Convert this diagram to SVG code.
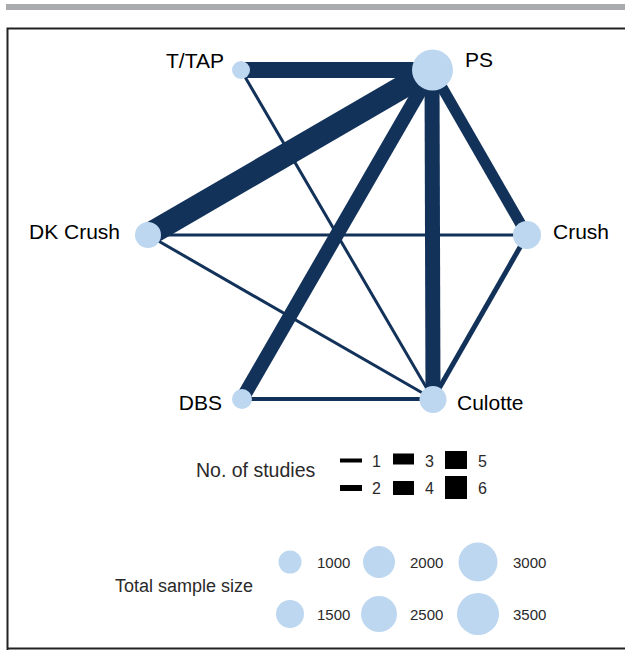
<svg xmlns="http://www.w3.org/2000/svg" width="625" height="650" viewBox="0 0 625 650">
<style>
.e{stroke:#12325a;fill:none;stroke-linecap:butt}
.n{fill:#bdd7f0}
.lb{font-family:"Liberation Sans",Arial,sans-serif;font-size:21px;fill:#000}
.lg{font-family:"Liberation Sans",Arial,sans-serif;fill:#2a2a2a}
.k{fill:#000}
</style>
<rect x="0" y="0" width="625" height="650" fill="#fff"/>
<rect x="6" y="4" width="619" height="6" fill="#a9abae"/>
<path d="M7.5,650 V28.5 H625 M7,648.5 H625" stroke="#222" stroke-width="2" fill="none"/>
<g id="edges">
<line class="e" x1="241" y1="70" x2="432" y2="70" stroke-width="16"/>
<line class="e" x1="148" y1="235" x2="432" y2="70" stroke-width="23"/>
<line class="e" x1="432" y1="70" x2="433" y2="399" stroke-width="15"/>
<line class="e" x1="432" y1="70" x2="242" y2="399" stroke-width="14"/>
<line class="e" x1="432" y1="70" x2="527" y2="235" stroke-width="11"/>
<line class="e" x1="241" y1="70" x2="433" y2="399" stroke-width="3"/>
<line class="e" x1="148" y1="235" x2="527" y2="235" stroke-width="3"/>
<line class="e" x1="148" y1="235" x2="433" y2="399" stroke-width="3"/>
<line class="e" x1="527" y1="235" x2="433" y2="399" stroke-width="5"/>
<line class="e" x1="242" y1="399" x2="433" y2="399" stroke-width="4"/>
</g>
<g id="node-ttap"><circle class="n" cx="241" cy="70" r="9"/><text class="lb" x="224" y="68" text-anchor="end">T/TAP</text></g>
<g id="node-ps"><circle class="n" cx="432.5" cy="70" r="20.5"/><text class="lb" x="465" y="67">PS</text></g>
<g id="node-dkcrush"><circle class="n" cx="148" cy="235" r="13"/><text class="lb" x="120" y="239" text-anchor="end">DK Crush</text></g>
<g id="node-crush"><circle class="n" cx="527" cy="235" r="14"/><text class="lb" x="553" y="239">Crush</text></g>
<g id="node-dbs"><circle class="n" cx="242" cy="399" r="10"/><text class="lb" x="222" y="410" text-anchor="end">DBS</text></g>
<g id="node-culotte"><circle class="n" cx="433" cy="399.5" r="13.5"/><text class="lb" x="457" y="410">Culotte</text></g>
<g id="legend-studies">
<text class="lg" x="196" y="477" font-size="19.5">No. of studies</text>
<rect class="k" x="340" y="458.5" width="22" height="4"/>
<rect class="k" x="340" y="485" width="22" height="6"/>
<rect class="k" x="393" y="453.5" width="21" height="11"/>
<rect class="k" x="393" y="481" width="21" height="14"/>
<rect class="k" x="445" y="451" width="22" height="18"/>
<rect class="k" x="445" y="476" width="22" height="23"/>
<text class="lg" x="372" y="467" font-size="16">1</text>
<text class="lg" x="372" y="494" font-size="16">2</text>
<text class="lg" x="425" y="467" font-size="16">3</text>
<text class="lg" x="425" y="494" font-size="16">4</text>
<text class="lg" x="478" y="467" font-size="16">5</text>
<text class="lg" x="478" y="494" font-size="16">6</text>
</g>
<g id="legend-sample">
<text class="lg" x="115" y="592" font-size="18">Total sample size</text>
<circle class="n" cx="290" cy="562" r="11.5"/>
<circle class="n" cx="290" cy="614" r="14"/>
<circle class="n" cx="379" cy="562" r="16"/>
<circle class="n" cx="379" cy="614" r="18"/>
<circle class="n" cx="478" cy="562" r="19.5"/>
<circle class="n" cx="478" cy="614" r="21"/>
<text class="lg" x="317" y="568" font-size="15">1000</text>
<text class="lg" x="317" y="620" font-size="15">1500</text>
<text class="lg" x="410" y="568" font-size="15">2000</text>
<text class="lg" x="410" y="620" font-size="15">2500</text>
<text class="lg" x="513" y="568" font-size="15">3000</text>
<text class="lg" x="513" y="620" font-size="15">3500</text>
</g>
</svg>
